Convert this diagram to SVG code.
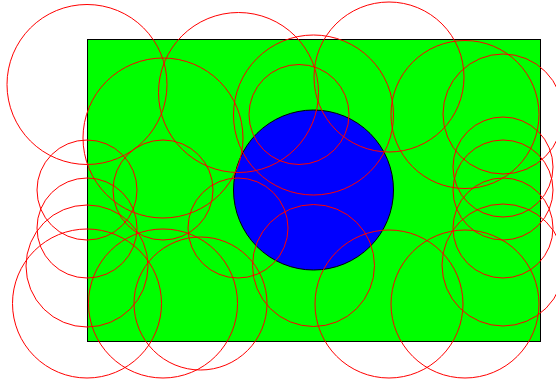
<svg xmlns="http://www.w3.org/2000/svg" width="556" height="383" viewBox="0 0 556 383">
<style>
.r{fill:none;stroke:#ff0000;stroke-width:1}
</style>
<rect x="0" y="0" width="556" height="383" fill="#ffffff"/>
<rect id="field" x="87.5" y="39.5" width="453" height="302" fill="#00ff00" stroke="#000000" stroke-width="1"/>
<circle id="disc" cx="313.5" cy="190" r="80" fill="#0000ff" stroke="#000000" stroke-width="1"/>
<g id="rings">
<circle class="r" cx="87" cy="84.5" r="80"/>
<circle class="r" cx="238.5" cy="92.5" r="80"/>
<circle class="r" cx="313.5" cy="115" r="80"/>
<circle class="r" cx="299" cy="114.5" r="50"/>
<circle class="r" cx="389" cy="77" r="75"/>
<circle class="r" cx="465" cy="114.5" r="74"/>
<circle class="r" cx="503" cy="114" r="60"/>
<circle class="r" cx="163" cy="138" r="80"/>
<circle class="r" cx="87" cy="190" r="50"/>
<circle class="r" cx="163" cy="190" r="50"/>
<circle class="r" cx="238" cy="228" r="50"/>
<circle class="r" cx="313.5" cy="265.5" r="61"/>
<circle class="r" cx="503" cy="167" r="50"/>
<circle class="r" cx="503" cy="190" r="50"/>
<circle class="r" cx="503" cy="228" r="50"/>
<circle class="r" cx="503" cy="265" r="61"/>
<circle class="r" cx="87" cy="228" r="50"/>
<circle class="r" cx="87" cy="266" r="61"/>
<circle class="r" cx="87" cy="303.5" r="74.5"/>
<circle class="r" cx="163" cy="303.5" r="74.5"/>
<circle class="r" cx="200.5" cy="303.5" r="66.5"/>
<circle class="r" cx="389" cy="304" r="74"/>
<circle class="r" cx="465" cy="304" r="74"/>
</g>
</svg>
